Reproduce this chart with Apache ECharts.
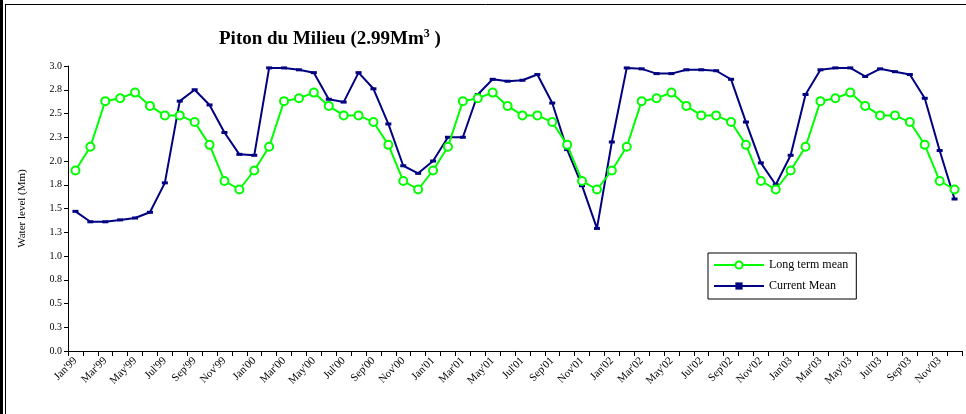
<!DOCTYPE html>
<html><head><meta charset="utf-8">
<script src="https://cdn.jsdelivr.net/npm/echarts@6/dist/echarts.min.js"></script>
<style>html,body{margin:0;padding:0;background:#fff}#c{width:966px;height:414px}</style>
</head><body><div id="c"></div>
<script>
const months = ['Jan','Feb','Mar','Apr','May','Jun','Jul','Aug','Sep','Oct','Nov','Dec'];
const years = ["'99","'00","'01","'02","'03"];
const categories = [];
years.forEach(y => months.forEach(m => categories.push(m + y)));

const longTermYear = [1.90, 2.15, 2.63, 2.66, 2.72, 2.58, 2.48, 2.48, 2.41, 2.17, 1.79, 1.70];
const longTermMean = [].concat(longTermYear, longTermYear, longTermYear, longTermYear, longTermYear);

const currentMean = [
  1.47, 1.36, 1.36, 1.38, 1.40, 1.46, 1.77, 2.63, 2.75, 2.59, 2.30, 2.07,
  2.06, 2.98, 2.98, 2.96, 2.93, 2.65, 2.62, 2.93, 2.76, 2.39, 1.95, 1.87,
  2.00, 2.25, 2.25, 2.70, 2.86, 2.84, 2.85, 2.91, 2.61, 2.12, 1.74, 1.29,
  2.20, 2.98, 2.97, 2.92, 2.92, 2.96, 2.96, 2.95, 2.86, 2.41, 1.98, 1.75,
  2.06, 2.70, 2.96, 2.98, 2.98, 2.89, 2.97, 2.94, 2.91, 2.66, 2.11, 1.60
];

const yTicks = { min: 0, max: 3, interval: 0.25 };

const chart = echarts.init(document.getElementById('c'), null, {renderer: 'canvas'});
const serif = '"Liberation Serif", "DejaVu Serif", serif';
chart.setOption({
  animation: false,
  backgroundColor: '#fff',
  textStyle: { fontFamily: serif },
  title: {
    text: '{t|Piton du Milieu (2.99Mm}{s|3}{t| )}',
    left: 214, top: 23,
    textStyle: {
      rich: {
        t: { fontFamily: serif, fontWeight: 'bold', fontSize: 19, color: '#000' },
        s: { fontFamily: serif, fontWeight: 'bold', fontSize: 12, color: '#000', verticalAlign: 'top', padding: [0,0,10,0] }
      }
    }
  },
  legend: {
    orient: 'vertical',
    left: 708, top: 253,
    backgroundColor: '#fff',
    borderColor: '#000', borderWidth: 1, borderRadius: 0,
    padding: [6, 8, 7, 5],
    itemGap: 9,
    itemWidth: 50, itemHeight: 9,
    textStyle: { fontFamily: serif, fontSize: 12, color: '#000' },
    data: ['Long term mean', 'Current Mean']
  },
  grid: { left: 68, right: 4, top: 66, bottom: 63, containLabel: false },
  xAxis: {
    type: 'category',
    data: categories,
    boundaryGap: true,
    axisLine: { lineStyle: { color: '#000', width: 1 } },
    axisTick: { show: true, alignWithLabel: false, interval: 0, length: 5, inside: false, lineStyle: { color: '#000' } },
    axisLabel: { interval: 1, rotate: 45, fontFamily: serif, fontSize: 11, color: '#000', margin: 8 },
    splitLine: { show: false }
  },
  yAxis: {
    type: 'value',
    min: yTicks.min, max: yTicks.max, interval: yTicks.interval,
    name: 'Water level (Mm)',
    nameLocation: 'middle', nameGap: 40, nameRotate: 90,
    nameTextStyle: { fontFamily: serif, fontSize: 11, color: '#000' },
    axisLine: { show: true, lineStyle: { color: '#000', width: 1 } },
    axisTick: { show: true, length: 4, lineStyle: { color: '#000' } },
    axisLabel: { fontFamily: serif, fontSize: 10, color: '#000', margin: 6, formatter: v => v.toFixed(1) },
    splitLine: { show: false }
  },
  series: [
    {
      name: 'Long term mean', type: 'line', data: longTermMean, z: 3,
      lineStyle: { color: '#00ff00', width: 2 },
      itemStyle: { color: '#fff', borderColor: '#00ff00', borderWidth: 2 },
      symbol: 'circle', symbolSize: 8, showAllSymbol: true
    },
    {
      name: 'Current Mean', type: 'line', data: currentMean, z: 2,
      lineStyle: { color: '#000080', width: 2 },
      itemStyle: { color: '#000080', borderWidth: 0 },
      symbol: 'rect', symbolSize: [6, 3], showAllSymbol: true
    }
  ],
  graphic: [
    { type: 'rect', shape: { x: 0, y: 0, width: 3, height: 414 }, style: { fill: '#000' } },
    { type: 'line', shape: { x1: 5.5, y1: 4, x2: 5.5, y2: 414 }, style: { stroke: '#000', lineWidth: 1 } },
    { type: 'line', shape: { x1: 5, y1: 4.5, x2: 966, y2: 4.5 }, style: { stroke: '#000', lineWidth: 1 } }
  ]
});
</script></body></html>
